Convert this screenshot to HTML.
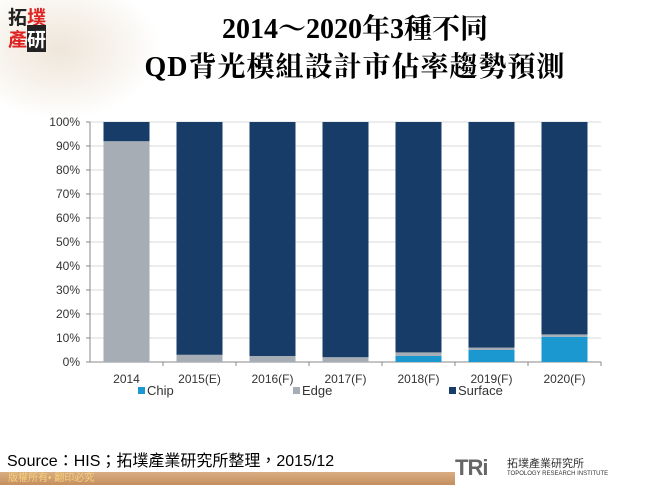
<!DOCTYPE html>
<html><head><meta charset="utf-8"><style>
body{margin:0;width:650px;height:485px;overflow:hidden;background:#fff;font-family:"Liberation Sans","Noto Sans CJK TC",sans-serif;position:relative}
.abs{position:absolute}
</style></head><body>
<div class="abs" style="left:0;top:0;width:200px;height:140px;background:radial-gradient(ellipse 100px 70px at 30% 35%,#efe6da 0%,#f6f1ea 50%,rgba(255,255,255,0) 100%)"></div>
<div class="abs" style="left:8px;top:6px;width:42px;height:48px;font:bold 19px 'Noto Sans CJK TC',sans-serif;line-height:22px">
<span style="color:#222">拓</span><span style="color:#d22">墣</span><br><span style="color:#d22">產</span><span style="color:#fff;background:#222">研</span></div>
<div class="abs" style="left:100px;top:11px;width:510px;text-align:center;font:bold 28px 'Liberation Serif','Noto Serif CJK SC',serif;line-height:38px;color:#000">2014～2020年3種不同<br><span style="letter-spacing:1px">QD背光模組設計市佔率趨勢預測</span></div>
<svg class="abs" style="left:0;top:0" width="650" height="485">
<g id="g"></g></svg>
<div class="abs" style="left:7px;top:447px;font-size:16px;color:#000">Source：HIS；拓墣產業研究所整理，2015/12</div>
<div class="abs" style="left:0;top:472px;width:650px;height:13px;background:linear-gradient(#d9ad82,#c58f5f)"></div>
<div class="abs" style="left:8px;top:472px;font-size:10px;color:#f5d27a;line-height:13px">版權所有• 翻印必究</div>
<div class="abs" style="left:455px;top:455px;width:195px;height:30px;background:#fff"><span style="font:bold 22px 'Liberation Sans';color:#666;letter-spacing:-1px">TRi</span><span style="position:absolute;left:52px;top:0;font-size:11px;color:#333">拓墣產業研究所</span><span style="position:absolute;left:52px;top:16px;font-size:6px;color:#333">TOPOLOGY RESEARCH INSTITUTE</span></div>
<script>
const categories=["2014","2015(E)","2016(F)","2017(F)","2018(F)","2019(F)","2020(F)"];
const chip=[0,0,0,0,2.5,5,10.5];
const edge=[92,3,2.5,2,1.5,1,1];
const surface=[8,97,97.5,98,96,94,88.5];
const yTicks=[0,10,20,30,40,50,60,70,80,90,100];
const seriesNames=["Chip","Edge","Surface"];
const colors=["#1b98d0","#a6adb4","#163c67"];
const NS="http://www.w3.org/2000/svg";
const g=document.getElementById('g');
const x0=90,x1=601,y0=362,y1=122;
const step=(x1-x0)/categories.length;
const xC=i=>x0+step*(i+0.5);
const yS=v=>y0-(y0-y1)*v/100;
function mk(t,a){const e=document.createElementNS(NS,t);for(const k in a)e.setAttribute(k,a[k]);g.appendChild(e);return e;}
yTicks.forEach(v=>{
 const l=mk('line',{x1:x0,x2:x1,y1:yS(v),y2:yS(v),stroke:'#d9d9d9'});
 
 
 mk('line',{x1:x0-4,x2:x0,y1:yS(v),y2:yS(v),stroke:'#888'});
 const t=mk('text',{x:x0-10,y:yS(v)+4,'text-anchor':'end','font-size':12,fill:'#333'});t.textContent=v+'%';
 
 
});
mk('line',{x1:x0,x2:x0,y1:y1,y2:y0,stroke:'#888'});
mk('line',{x1:x0,x2:x1,y1:y0,y2:y0,stroke:'#888'});
const bw=46;
categories.forEach((c,i)=>{
 let acc=0;
 [chip,edge,surface].forEach((s,k)=>{
  const v=s[i];if(v<=0)return;
  const r=mk('rect',{x:xC(i)-bw/2,y:yS(acc+v),width:bw,height:yS(acc)-yS(acc+v),fill:colors[k]});
  
  
  acc+=v;
 });
 const t=mk('text',{x:xC(i),y:383,'text-anchor':'middle','font-size':12,fill:'#333'});t.textContent=c;
 
 
 mk('line',{x1:x0+step*(i+1),x2:x0+step*(i+1),y1:y0,y2:y0+4,stroke:'#888'});
});
const lx=[138,293,449];
seriesNames.forEach((n,k)=>{
 const r=mk('rect',{x:lx[k],y:387,width:7,height:7,fill:colors[k]});
 
 
 const t=mk('text',{x:lx[k]+9,y:395,'font-size':13,fill:'#333'});t.textContent=n;
 
 
});
</script>
</body></html>
